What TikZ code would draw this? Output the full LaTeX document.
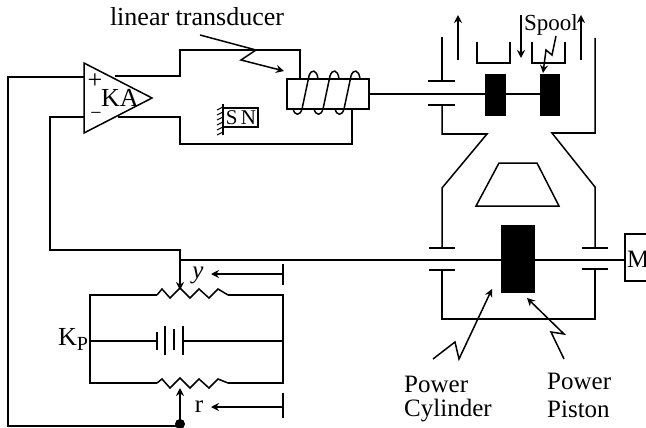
\documentclass[tikz,border=0pt]{standalone}
\usepackage{fontspec}
\setmainfont{Liberation Serif}
\usetikzlibrary{arrows.meta}
\tikzset{
  x=1pt,y=-1pt,
  wire/.style={line width=1.5pt,line join=miter,black},
  tip/.style={wire,-{Stealth[length=8pt,width=8pt]}},
  lab/.style={inner sep=0pt,font=\fontsize{26}{30}\selectfont},
  sml/.style={inner sep=0pt,font=\fontsize{25}{29}\selectfont},
  solidblk/.style={fill=black,draw=black},
}
\begin{document}
\begin{tikzpicture}
\useasboundingbox (0,0) rectangle (646,428);
% named points
\coordinate (ampA) at (84,63); \coordinate (ampB) at (152,98); \coordinate (ampC) at (84,133);
\coordinate (plusIn) at (84,77); \coordinate (minusIn) at (84,117);
\coordinate (plusOut) at (115,76); \coordinate (minusOut) at (118,117);
\coordinate (potTop) at (180,295); \coordinate (potBot) at (180,383);
\coordinate (wiper) at (180,424);
\coordinate (shaftL) at (180,260); \coordinate (shaftR) at (625,260);
% amplifier
\draw[wire] (ampA) -- (ampB) -- (ampC) -- cycle;
\node[lab] (ka) at (120,98) {KA};
\node[lab] (plus) at (95,81) {+};
\node[sml,font=\fontsize{20}{22}\selectfont] (minus) at (96,116) {\textminus};
\draw[wire] (plusIn) -- (8,77) -- (8,426) -- (180,426);
\draw[wire] (minusIn) -- (50,117) -- (50,250) -- (180,250) -- (180,260);
\draw[tip] (180,255) -- (180,290);
\draw[wire] (plusOut) -- (180,76) -- (180,50) -- (300,50) -- (300,79);
\draw[wire] (minusOut) -- (180,117) -- (180,144) -- (352,144) -- (352,110);
% transducer
\node[lab] (lt) at (197,17) {linear transducer};
\draw[tip] (200,35) -- (256,50) -- (241,60) -- (284,71);
\draw[wire] (287,79) rectangle (369,109);
\foreach \d in {0,21,42}{
  \draw[wire] ([xshift=\d pt]293,109) .. controls ([xshift=\d pt]295,116) and ([xshift=\d pt]300,116) .. ([xshift=\d pt]302,109)
     -- ([xshift=\d pt]309,76) .. controls ([xshift=\d pt]311,69) and ([xshift=\d pt]317,69) .. ([xshift=\d pt]318,79);
}
% S N
\draw[wire] (223,104) -- (223,135);
\draw[wire] (223,108) rectangle (258,127);
\foreach \y in {107,112,117,122,127,132}{\draw[line width=1pt] (223,\y) -- (217,\y+3);}
\node[inner sep=0pt,font=\fontsize{21}{24}\selectfont] (sn) at (241,118) {S\,N};
% spool valve
\draw[wire] (369,94) -- (540,94);
\draw[solidblk] (485,74) rectangle (505,115);
\draw[solidblk] (540,74) rectangle (559,115);
\draw[wire] (428,81) -- (455,81);
\draw[wire] (428,105) -- (455,105);
\draw[wire] (442,37) -- (442,81);
\draw[wire] (442,105) -- (442,134) -- (487,134) -- (442,188) -- (442,248);
\draw[wire] (595,38) -- (595,133) -- (552,133) -- (595,187) -- (595,248);
\draw[wire] (477,42) -- (477,63) -- (510,63) -- (510,42);
\draw[wire] (532,42) -- (532,63) -- (565,63) -- (565,42);
\draw[tip] (458,60) -- (458,15);
\draw[tip] (521,15) -- (521,58);
\draw[tip] (581,60) -- (581,15);
\node[inner sep=0pt,font=\fontsize{23}{26}\selectfont] (spool) at (551,25) {Spool};
\draw[tip] (556,36) -- (552,55) -- (546,50) -- (543,73);
\draw[wire] (499,163) -- (537,163) -- (559,206) -- (476,206) -- cycle;
% power cylinder
\draw[wire] (shaftL) -- (shaftR);
\draw[solidblk] (501,225) rectangle (534,292);
\draw[wire] (429,248) -- (455,248);
\draw[wire] (429,270) -- (455,270);
\draw[wire] (582,248) -- (608,248);
\draw[wire] (582,269) -- (608,269);
\draw[wire] (442,270) -- (442,319) -- (595,319) -- (595,269);
\draw[wire] (646,234) -- (625,234) -- (625,281) -- (646,281);
\begin{scope}
\clip (626,230) rectangle (646,290);
\node[sml,anchor=west] (m) at (627,259) {M};
\end{scope}
\draw[tip] (433,359) -- (455,342) -- (459,359) -- (492,289);
\draw[tip] (564,359) -- (551,332) -- (564,334) -- (527,298);
\node[sml,anchor=west] (pc1) at (404,384) {Power};
\node[sml,anchor=west] (pc2) at (404,411) {Cylinder};
\node[sml,anchor=west] (pp1) at (547,381) {Power};
\node[sml,anchor=west] (pp2) at (547,409) {Piston};
% potentiometer bridge
\draw[wire] (157,295) -- (90,295) -- (90,383) -- (157,383);
\draw[wire] (228,295) -- (283,295) -- (283,383) -- (228,383);
\draw[wire] (157,295) -- (162,289) -- (170,298) -- (180,288) -- (190,298) -- (199,289) -- (209,298) -- (218,289) -- (228,295);
\draw[wire] (157,383) -- (162,379) -- (170,388) -- (180,378) -- (190,388) -- (199,379) -- (209,388) -- (218,379) -- (228,383);
\draw[tip] (wiper) -- (180,388);
\fill (wiper) circle (5pt);
\draw[wire] (90,341) -- (157,341);
\draw[wire] (157,332) -- (157,350);
\draw[wire] (165,326) -- (165,355);
\draw[wire] (174,329) -- (174,350);
\draw[wire] (183,326) -- (183,355);
\draw[wire] (183,341) -- (283,341);
\draw[wire] (283,264) -- (283,285);
\draw[tip] (283,274) -- (211,274);
\draw[wire] (283,393) -- (283,418);
\draw[tip] (283,407) -- (211,407);
\node[sml] (yl) at (198,275) {\itshape y};
\node[sml] (rl) at (199,407) {r};
\node[lab,anchor=west] (kp) at (58,339) {K\raisebox{-5pt}{\fontsize{20}{22}\selectfont P}};
\end{tikzpicture}
\end{document}
